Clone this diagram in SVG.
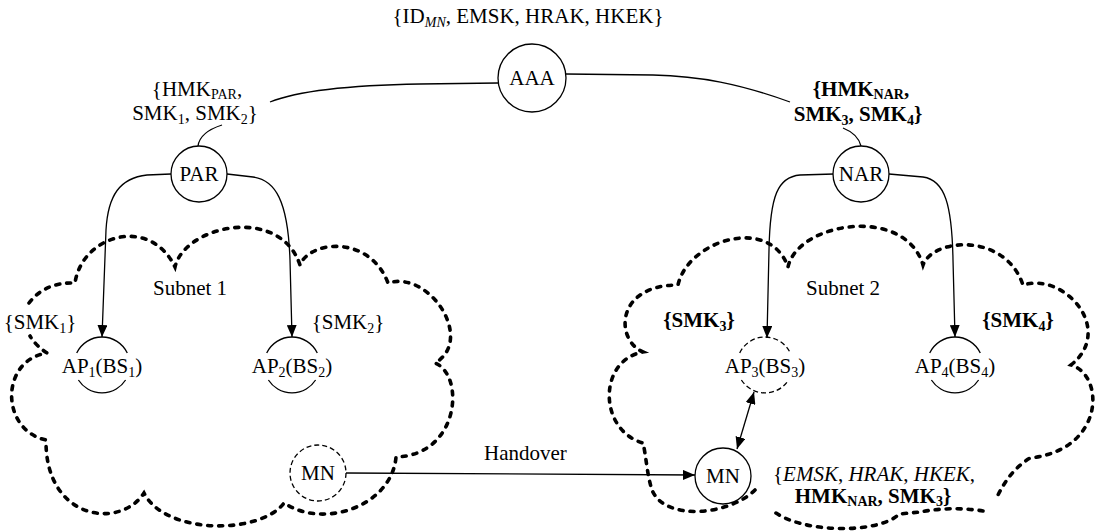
<svg xmlns="http://www.w3.org/2000/svg" width="1098" height="531" viewBox="0 0 1098 531">
<style>
text{font-family:"Liberation Serif","Times New Roman",serif;font-size:21px;fill:#000}
.m{text-anchor:middle}
.b{font-weight:bold}
.i{font-style:italic}
.s{font-size:14px}
.node{fill:#fff;stroke:#000;stroke-width:1.3}
.dnode{fill:#fff;stroke:#000;stroke-width:1.3;stroke-dasharray:5 3}
.arc{fill:none;stroke:#000;stroke-width:1.3}
.darc{fill:none;stroke:#000;stroke-width:1.3;stroke-dasharray:5 3}
.conn{fill:none;stroke:#000;stroke-width:1.3}
.cloud{fill:none;stroke:#000;stroke-width:3.6;stroke-dasharray:4 7;stroke-linecap:round}
</style>
<defs>
<marker id="ah" viewBox="0 0 12 10" refX="12" refY="5" markerWidth="12" markerHeight="10" markerUnits="userSpaceOnUse" orient="auto-start-reverse"><path d="M0,0 L12,5 L0,10 z" fill="#000"/></marker>
</defs>

<g id="clouds">
<path class="cloud" d="M29,303 Q45,282 75,283 C82,235 150,215 175,267 C185,225 280,205 300,265 C310,240 370,235 388,283 C430,270 475,340 435,363 C465,375 460,455 396,457 C392,505 325,530 284,503 C260,535 165,535 144,493 C120,530 45,520 46,440 C0,430 0,360 47,353 Q36,346 30,336"/>
<path class="cloud" d="M755,490 C730,515 665,522 652,490 C647,475 646,455 643,443 C598,430 598,360 643,352 C615,340 615,285 678,285 C688,240 770,215 788,267 C798,222 905,205 923,265 C933,238 1005,232 1023,285 C1065,272 1115,330 1071,365 C1105,375 1105,450 1030,458 Q1010,470 997,497"/>
<path class="cloud" d="M983,511 Q952,506 920,512 Q910,513 899,514 C880,534 800,534 772,510"/>
</g>

<g id="connectors">
<path class="conn" d="M498,83 L420,84 C360,85 300,90 270,102"/>
<path class="conn" d="M566,74 L653,75 C700,76 740,84 790,102"/>
<path class="conn" d="M198,146 Q200,132 222,125"/>
<path class="conn" d="M861,146 Q858,134 843,128"/>
<path class="conn" d="M171,174 L147,175 C120,178 108,195 106,230 L102,337" marker-end="url(#ah)"/>
<path class="conn" d="M227,174 L253,177 C275,180 288,200 290,260 L292,337" marker-end="url(#ah)"/>
<path class="conn" d="M834,174 L800,175 C778,177 770,195 769,250 L767,338" marker-end="url(#ah)"/>
<path class="conn" d="M889,174 L923,177 C945,180 952,205 953,260 L955,337" marker-end="url(#ah)"/>
<path class="conn" d="M346,473 L695,475" marker-end="url(#ah)"/>
<path class="conn" d="M737,449 L754,392" marker-start="url(#ah)" marker-end="url(#ah)"/>
<text x="484" y="460">Handover</text>
</g>

<g id="aaa">
<circle class="node" cx="532" cy="78" r="34"/>
<text class="m" x="532" y="85">AAA</text>
<text class="m" x="528" y="23">{ID<tspan class="s i" dy="4">MN</tspan><tspan dy="-4">, EMSK, HRAK, HKEK}</tspan></text>
</g>

<g id="par">
<circle class="node" cx="199" cy="174" r="28"/>
<text class="m" x="199" y="181">PAR</text>
<text class="m" x="197" y="96">{HMK<tspan class="s" dy="3">PAR</tspan><tspan dy="-3">,</tspan></text>
<text class="m" x="195" y="120">SMK<tspan class="s" dy="4">1</tspan><tspan dy="-4">, SMK</tspan><tspan class="s" dy="4">2</tspan><tspan dy="-4">}</tspan></text>
</g>

<g id="nar">
<circle class="node" cx="861" cy="174" r="28"/>
<text class="m" x="861" y="181">NAR</text>
<text class="m b" x="861" y="96">{HMK<tspan class="s" dy="3">NAR</tspan><tspan dy="-3">,</tspan></text>
<text class="m b" x="858" y="121">SMK<tspan class="s" dy="4">3</tspan><tspan dy="-4">, SMK</tspan><tspan class="s" dy="4">4</tspan><tspan dy="-4">}</tspan></text>
</g>

<g id="subnet1">
<text class="m" x="190" y="295">Subnet 1</text>
<text class="m" x="40" y="329">{SMK<tspan class="s" dy="4">1</tspan><tspan dy="-4">}</tspan></text>
<text class="m" x="348" y="329">{SMK<tspan class="s" dy="4">2</tspan><tspan dy="-4">}</tspan></text>
</g>

<g id="ap1">
<path class="arc" d="M76.7,353 A28,28 0 0 1 127.3,353 M78.4,380 A28,28 0 0 0 125.6,380"/>
<text class="m" x="102" y="373">AP<tspan class="s" dy="4">1</tspan><tspan dy="-4">(BS</tspan><tspan class="s" dy="4">1</tspan><tspan dy="-4">)</tspan></text>
</g>

<g id="ap2">
<path class="arc" d="M266.7,353 A28,28 0 0 1 317.3,353 M268.4,380 A28,28 0 0 0 315.6,380"/>
<text class="m" x="292" y="373">AP<tspan class="s" dy="4">2</tspan><tspan dy="-4">(BS</tspan><tspan class="s" dy="4">2</tspan><tspan dy="-4">)</tspan></text>
</g>

<g id="mn-old">
<circle class="dnode" cx="318" cy="473" r="28"/>
<text class="m" x="318" y="480">MN</text>
</g>

<g id="subnet2">
<text class="m" x="843" y="295">Subnet 2</text>
<text class="m b" x="699" y="327">{SMK<tspan class="s" dy="4">3</tspan><tspan dy="-4">}</tspan></text>
<text class="m b" x="1018" y="327">{SMK<tspan class="s" dy="4">4</tspan><tspan dy="-4">}</tspan></text>
</g>

<g id="ap3">
<path class="darc" d="M739.7,353 A28,28 0 0 1 790.3,353 M741.4,380 A28,28 0 0 0 788.6,380"/>
<text class="m" x="765" y="373">AP<tspan class="s" dy="4">3</tspan><tspan dy="-4">(BS</tspan><tspan class="s" dy="4">3</tspan><tspan dy="-4">)</tspan></text>
</g>

<g id="ap4">
<path class="arc" d="M929.7,353 A28,28 0 0 1 980.3,353 M931.4,380 A28,28 0 0 0 978.6,380"/>
<text class="m" x="955" y="373">AP<tspan class="s" dy="4">4</tspan><tspan dy="-4">(BS</tspan><tspan class="s" dy="4">4</tspan><tspan dy="-4">)</tspan></text>
</g>

<g id="mn-new">
<circle class="node" cx="723" cy="476" r="28"/>
<text class="m" x="723" y="483">MN</text>
<text class="m" x="874" y="481">{<tspan class="i">EMSK</tspan>, <tspan class="i">HRAK</tspan>, <tspan class="i">HKEK</tspan>,</text>
<text class="m b" x="873" y="503">HMK<tspan class="s" dy="3">NAR</tspan><tspan dy="-3">, SMK</tspan><tspan class="s" dy="3">3</tspan><tspan dy="-3">}</tspan></text>
</g>
</svg>
